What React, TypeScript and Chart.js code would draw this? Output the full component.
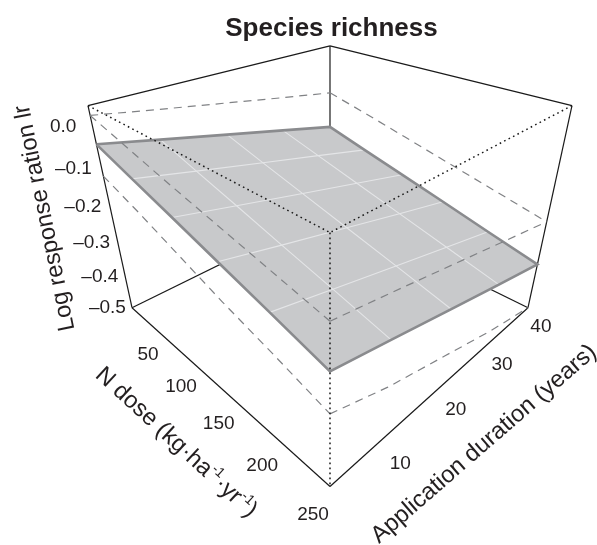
import React, { useEffect, useRef } from "react";
import { Chart, registerables } from "chart.js";

Chart.register(...registerables);

const titleText = "Species richness";
const zAxisTitle = "Log response ration lr";
const durationAxisTitle = "Application duration (years)";
const doses = [0, 50, 100, 150, 200, 250];
const durations = [2, 10, 20, 30, 40];
const zRange = [-0.5, 0.048];
const doseTicks = [50, 100, 150, 200, 250];
const durationTicks = [10, 20, 30, 40];
const zTicks = [0, -0.1, -0.2, -0.3, -0.4, -0.5];

// fitted surface: one row per dose, one value per duration
const fitDose0 = [-0.041, -0.075, -0.117, -0.159, -0.201];
const fitDose50 = [-0.075, -0.109, -0.151, -0.192, -0.234];
const fitDose100 = [-0.108, -0.142, -0.184, -0.225, -0.266];
const fitDose150 = [-0.142, -0.176, -0.217, -0.258, -0.298];
const fitDose200 = [-0.176, -0.209, -0.25, -0.291, -0.331];
const fitDose250 = [-0.211, -0.243, -0.284, -0.324, -0.363];
const fit = [fitDose0, fitDose50, fitDose100, fitDose150, fitDose200, fitDose250];

// confidence band edges
const upperDose0 = [0.026, 0, -0.031, -0.062, -0.092];
const upperDose250 = [-0.108, -0.135, -0.17, -0.205, -0.24];
const upperDur2 = [0.026, -0.002, -0.03, -0.056, -0.082, -0.108];
const upperDur40 = [-0.092, -0.12, -0.15, -0.18, -0.21, -0.24];
const lowerDur2 = [-0.119, -0.155, -0.195, -0.235, -0.27, -0.308];
const lowerDose250 = [-0.308, -0.36, -0.41, -0.46, -0.5];

const FONT = '"Liberation Sans", Arial, sans-serif';
const INK = "#231f20";

const doseMin = doses[0], doseMax = doses[doses.length - 1];
const durMin = durations[0], durMax = durations[durations.length - 1];

// Perspective camera of the 3-D box (homogeneous basis vectors)
const O = [132, 307.7, 1];
const SV = [100.65, 35.28, -0.295];
const TV = [295.35, -35.28, 0.295];
const WV = [-60, -221.3, -0.1818];

function projectUnit(s: number, t: number, w: number) {
  const h = [0, 1, 2].map((i) => O[i] + s * SV[i] + t * TV[i] + w * WV[i]);
  return { x: h[0] / h[2], y: h[1] / h[2] };
}
const unitS = (d: number) => (d - doseMin) / (doseMax - doseMin);
const unitT = (d: number) => (d - durMin) / (durMax - durMin);
const unitW = (z: number) => (z - zRange[0]) / (zRange[1] - zRange[0]);
const project = (dose: number, dur: number, z: number) =>
  projectUnit(unitS(dose), unitT(dur), unitW(z));

const line = (
  data: { x: number; y: number }[],
  color: string,
  width: number,
  order: number,
  dash: number[] = [],
  extra: Record<string, unknown> = {}
) => ({
  type: "scatter" as const,
  data,
  showLine: true,
  borderColor: color,
  borderWidth: width,
  borderDash: dash,
  borderCapStyle: "butt" as const,
  pointRadius: 0,
  tension: 0,
  clip: false,
  order,
  ...extra,
});

const textPlugin = {
  id: "labels3d",
  afterDraw(chart: Chart) {
    const { ctx, scales } = chart;
    const px = (p: { x: number; y: number }) => ({
      x: scales.x.getPixelForValue(p.x),
      y: scales.y.getPixelForValue(p.y),
    });
    const put = (text: string, p: { x: number; y: number }) => ctx.fillText(text, p.x, p.y);
    ctx.save();
    ctx.fillStyle = INK;
    ctx.textAlign = "center";
    ctx.textBaseline = "middle";

    ctx.font = `bold 26px ${FONT}`;
    ctx.fillText(titleText, 331.5, 29);

    ctx.font = `19px ${FONT}`;
    doseTicks.forEach((d) => put(String(d), px(projectUnit(unitS(d), -0.06, -0.07))));
    durationTicks.forEach((d) => put(String(d), px(projectUnit(1.06, unitT(d), -0.07))));
    zTicks.forEach((z) => {
      const w = unitW(z);
      const h = projectUnit(-0.062, -0.062, w);
      put((z < 0 ? "\u2013" : "") + Math.abs(z).toFixed(1), px(h));
    });

    const rotated = (text: string, x: number, y: number, deg: number) => {
      ctx.save();
      ctx.translate(x, y);
      ctx.rotate((deg * Math.PI) / 180);
      ctx.fillText(text, 0, 0);
      ctx.restore();
    };
    ctx.font = `23.8px ${FONT}`;
    rotated(zAxisTitle, 45, 218, -101.5);
    rotated(durationAxisTitle, 484, 444, -41);

    // N dose title, with superscripts
    const runs: [string, boolean][] = [
      ["N dose (kg\u00b7ha", false],
      ["-1", true],
      ["\u00b7yr", false],
      ["-1", true],
      [")", false],
    ];
    const bigFont = `23.8px ${FONT}`;
    const smallFont = `14px ${FONT}`;
    const widths = runs.map(([t, sup]) => {
      ctx.font = sup ? smallFont : bigFont;
      return ctx.measureText(t).width;
    });
    const total = widths.reduce((a, b) => a + b, 0);
    ctx.save();
    ctx.translate(176, 442.5);
    ctx.rotate((42.5 * Math.PI) / 180);
    ctx.textAlign = "left";
    let cx = -total / 2;
    runs.forEach(([t, sup], i) => {
      ctx.font = sup ? smallFont : bigFont;
      ctx.fillText(t, cx, sup ? -7 : 0);
      cx += widths[i];
    });
    ctx.restore();
    ctx.restore();
  },
};

export default function App() {
  const ref = useRef<HTMLCanvasElement>(null);
  useEffect(() => {
    document.body.style.margin = "0";
    const [zLo, zHi] = zRange;
    const black = "#1a1a1a";
    const dashGray = "#808285";
    const gridCol = "#e4e5e7";
    const edgeCol = "#8a8b8e";
    const dash = [8, 6];
    const dot = [1.6, 3.4];

    const perimeter = [
      ...durations.map((d, j) => project(doseMin, d, fit[0][j])),
      ...doses.map((d, i) => project(d, durMax, fit[i][durations.length - 1])),
      ...durations.map((d, j) => project(doseMax, d, fit[doses.length - 1][j])).reverse(),
      ...doses.map((d, i) => project(d, durMin, fit[i][0])).reverse(),
    ];

    const datasets: any[] = [
      // hidden box edges, under the surface
      line([project(doseMin, durMax, zLo), project(doseMin, durMax, zHi)], black, 1.2, 50),
      line([project(doseMin, durMin, zLo), project(doseMin, durMax, zLo)], black, 1.2, 50),
      line([project(doseMax, durMax, zLo), project(doseMin, durMax, zLo)], black, 1.2, 50),
      line([project(doseMin, durMin, zHi), project(doseMin, durMax, zHi)], black, 1.2, 50),
      line([project(doseMin, durMax, zHi), project(doseMax, durMax, zHi)], black, 1.2, 50),
      line([project(doseMin, durMin, zLo), project(doseMin, durMin, zHi)], black, 1.2, 50),
      line([project(doseMax, durMax, zLo), project(doseMax, durMax, zHi)], black, 1.2, 50),
      line([project(doseMin, durMin, zLo), project(doseMax, durMin, zLo)], black, 1.2, 50),
      line([project(doseMax, durMin, zLo), project(doseMax, durMax, zLo)], black, 1.2, 50),
      // lower band
      line(doses.map((d, i) => project(d, durMin, lowerDur2[i])), dashGray, 1.2, 45, dash),
      line(durations.map((d, j) => project(doseMax, d, lowerDose250[j])), dashGray, 1.2, 45, dash),
      // surface
      line(perimeter, "rgba(0,0,0,0)", 0, 40, [], {
        fill: "shape",
        backgroundColor: "#c8c9cb",
      }),
    ];
    doses.slice(1, -1).forEach((d, i) => {
      datasets.push(line(durations.map((u, j) => project(d, u, fit[i + 1][j])), gridCol, 1.1, 30));
    });
    durations.slice(1, -1).forEach((u, j) => {
      datasets.push(line(doses.map((d, i) => project(d, u, fit[i][j + 1])), gridCol, 1.1, 30));
    });
    datasets.push(
      line([...perimeter, perimeter[0]], edgeCol, 2.6, 20),
      // upper band
      line(durations.map((d, j) => project(doseMin, d, upperDose0[j])), dashGray, 1.2, 10, dash),
      line(doses.map((d, i) => project(d, durMax, upperDur40[i])), dashGray, 1.2, 10, dash),
      line(durations.map((d, j) => project(doseMax, d, upperDose250[j])), dashGray, 1.2, 10, dash),
      line(doses.map((d, i) => project(d, durMin, upperDur2[i])), dashGray, 1.2, 10, dash),
      // dotted front edges
      line([project(doseMin, durMin, zHi), project(doseMax, durMin, zHi)], black, 1.5, 5, dot),
      line([project(doseMax, durMax, zHi), project(doseMax, durMin, zHi)], black, 1.5, 5, dot),
      line([project(doseMax, durMin, zHi), project(doseMax, durMin, zLo)], black, 1.5, 5, dot)
    );

    const chart = new Chart(ref.current as HTMLCanvasElement, {
      type: "scatter",
      data: { datasets },
      options: {
        animation: false,
        responsive: false,
        devicePixelRatio: 1,
        layout: { padding: 0 },
        plugins: { legend: { display: false }, tooltip: { enabled: false }, title: { display: false } },
        scales: {
          x: { type: "linear", min: 0, max: 597, display: false },
          y: { type: "linear", min: 0, max: 545, reverse: true, display: false },
        },
      },
      plugins: [textPlugin],
    } as any);
    return () => chart.destroy();
  }, []);
  return (
    <div style={{ width: 597, height: 545, background: "#fff" }}>
      <canvas ref={ref} width={597} height={545} style={{ display: "block" }} />
    </div>
  );
}
